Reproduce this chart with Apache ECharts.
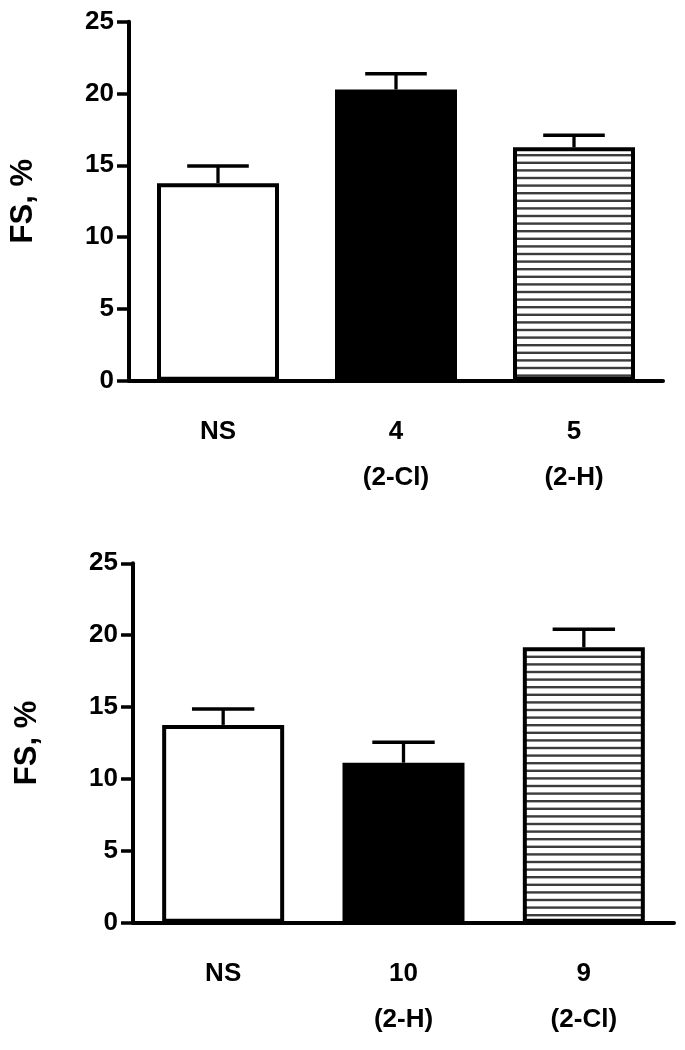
<!DOCTYPE html>
<html>
<head>
<meta charset="utf-8">
<script src="https://cdn.jsdelivr.net/npm/echarts@6/dist/echarts.min.js"></script>
<style>
html,body{margin:0;padding:0;background:#fff;}
#chart{width:685px;height:1050px;}
</style>
</head>
<body>
<div id="chart"></div>
<script>
// ---- data ----
const yTicks = [0, 5, 10, 15, 20, 25];
const topCategories = ['NS', '4', '5'];
const topSubLabels = ['', '(2-Cl)', '(2-H)'];
const topMeans = [13.75, 20.28, 16.25];
const topUpper = [14.95, 21.38, 17.1];
const bottomCategories = ['NS', '10', '9'];
const bottomSubLabels = ['', '(2-H)', '(2-Cl)'];
const bottomMeans = [13.76, 11.13, 19.16];
const bottomUpper = [14.87, 12.55, 20.42];
const topFills = ['white', 'black', 'hatch'];
const bottomFills = ['white', 'black', 'hatch'];
const yName = 'FS, %';

// ---- hatch pattern ----
const pat = document.createElement('canvas');
pat.width = 4; pat.height = 38;
const pctx = pat.getContext('2d');
pctx.fillStyle = '#ffffff';
pctx.fillRect(0, 0, 4, 38);
pctx.fillStyle = '#3c3c3c';
for (let k = 0; k < 5; k++) pctx.fillRect(0, 7.6 * k + 2, 4, 2.4);

function fillFor(f) {
  if (f === 'black') return '#000';
  if (f === 'white') return '#fff';
  return { image: pat, repeat: 'repeat' };
}

const FONT = '"Liberation Sans", Arial, sans-serif';

function xAxisFor(idx, cats, subs) {
  return {
    type: 'category', gridIndex: idx, data: cats,
    axisLine: { lineStyle: { color: '#000', width: 4 } },
    axisTick: { alignWithLabel: true, length: 12, lineStyle: { color: '#000', width: 3.5 } },
    axisLabel: {
      margin: 28, interval: 0,
      formatter: (v, i) => '{a|' + v + '}\n{b|' + (subs[i] || ' ') + '}',
      rich: {
        a: { fontFamily: FONT, fontSize: 26, fontWeight: 'bold', color: '#000', lineHeight: 46 },
        b: { fontFamily: FONT, fontSize: 26, fontWeight: 'bold', color: '#000', lineHeight: 46 }
      }
    }
  };
}
function yAxisFor(idx) {
  return {
    type: 'value', gridIndex: idx, min: 0, max: 25, interval: 5,
    name: yName, nameLocation: 'middle', nameGap: 90, nameRotate: 90,
    nameTextStyle: { fontFamily: FONT, fontSize: 31, fontWeight: 'bold', color: '#000' },
    axisLine: { show: true, lineStyle: { color: '#000', width: 4 } },
    axisTick: { show: true, length: 12, lineStyle: { color: '#000', width: 3.5 } },
    splitLine: { show: false },
    axisLabel: { margin: 15, fontFamily: FONT, fontSize: 26, fontWeight: 'bold', color: '#000',
      formatter: v => yTicks.includes(v) ? String(v) : '' }
  };
}
function barSeries(idx, means, fills) {
  return {
    type: 'bar', xAxisIndex: idx, yAxisIndex: idx, barWidth: 122,
    data: means.map((m, i) => ({ value: m, itemStyle: { color: fillFor(fills[i]), borderColor: '#000', borderWidth: 4 } })),
    z: 2
  };
}
function errSeries(idx, means, upper) {
  return {
    type: 'custom', xAxisIndex: idx, yAxisIndex: idx, z: 3,
    data: means.map((m, i) => [i, m, upper[i]]),
    encode: { x: 0, y: [1, 2] },
    renderItem: (params, api) => {
      const p0 = api.coord([api.value(0), api.value(1)]);
      const p1 = api.coord([api.value(0), api.value(2)]);
      const half = api.size([1, 0])[0] * 0.173;
      return { type: 'group', children: [
        { type: 'line', shape: { x1: p0[0], y1: p0[1], x2: p1[0], y2: p1[1] }, style: { stroke: '#000', lineWidth: 3.3 } },
        { type: 'line', shape: { x1: p1[0] - half, y1: p1[1], x2: p1[0] + half, y2: p1[1] }, style: { stroke: '#000', lineWidth: 3.5 } }
      ] };
    }
  };
}

const chart = echarts.init(document.getElementById('chart'), null, { renderer: 'canvas' });
chart.setOption({
  backgroundColor: '#fff',
  animation: false,
  grid: [
    { left: 122, top: 21.7, width: 541, height: 359 },
    { left: 133, top: 563.3, width: 541, height: 359.4 }
  ],
  xAxis: [xAxisFor(0, topCategories, topSubLabels), xAxisFor(1, bottomCategories, bottomSubLabels)],
  yAxis: [yAxisFor(0), yAxisFor(1)],
  series: [
    barSeries(0, topMeans, topFills), errSeries(0, topMeans, topUpper),
    barSeries(1, bottomMeans, bottomFills), errSeries(1, bottomMeans, bottomUpper)
  ]
});
</script>
</body>
</html>
